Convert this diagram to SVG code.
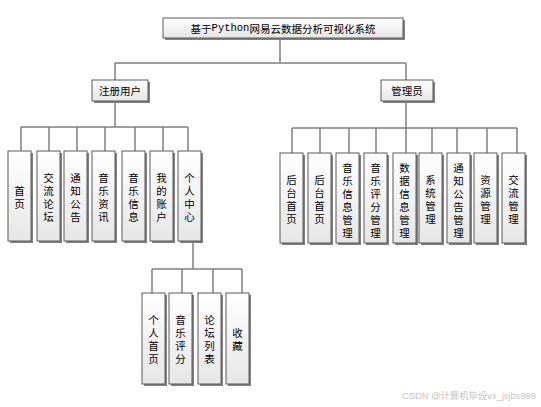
<svg xmlns="http://www.w3.org/2000/svg" width="541" height="407" viewBox="0 0 541 407">
<defs>
<linearGradient id="g" x1="0" y1="0" x2="0" y2="1">
<stop offset="0" stop-color="#ffffff"/>
<stop offset="1" stop-color="#e6e6e6"/>
</linearGradient>
</defs>
<style>
.box{fill:url(#g);stroke:#5a5a5a;stroke-width:1}
.sh{fill:#808080}
.t{font-family:"Noto Sans CJK SC","Noto Sans",sans-serif;font-size:10.5px;fill:#000;text-anchor:middle;dominant-baseline:central}
.ln{stroke:#808080;stroke-width:1.5;fill:none}
.wm{font-family:"Liberation Sans","Noto Sans CJK SC",sans-serif;font-size:9.5px;fill:#c4c4c4}
</style>
<rect width="541" height="407" fill="#fff"/>
<g id="connectors">
<path class="ln" d="M280,38V63M115,63H406M115,63V80M406,63V80"/>
<path class="ln" d="M115,101V127M21,127H188M21,127V151M49,127V151M77,127V151M105,127V151M135,127V151M163,127V151M188,127V151"/>
<path class="ln" d="M406,101V128M292,128H517M292,128V153M320,128V153M349,128V153M376,128V153M406,128V153M432,128V153M457,128V153M487,128V153M517,128V153"/>
<path class="ln" d="M193,242V269M152,269H242M152,269V293M182,269V293M213,269V293M242,269V293"/>
</g>
<g id="title">
<rect class="sh" x="165" y="20" width="240" height="20"/>
<rect class="box" x="163" y="18" width="240" height="20"/>
<text class="t" x="283" y="28">基于<tspan font-family="Liberation Mono">Python</tspan>网易云数据分析可视化系统</text>
</g>
<g id="user">
<rect class="sh" x="94" y="82" width="56" height="21"/>
<rect class="box" x="92" y="80" width="56" height="21"/>
<text class="t" x="120" y="90.5">注册用户</text>
</g>
<g id="admin">
<rect class="sh" x="383" y="82" width="52" height="21"/>
<rect class="box" x="381" y="80" width="52" height="21"/>
<text class="t" x="407" y="90.5">管理员</text>
</g>
<g id="u1"><rect class="sh" x="10" y="153" width="23" height="90"/><rect class="box" x="8" y="151" width="23" height="90"/>
<text class="t"><tspan x="19.5" y="189.5">首</tspan><tspan x="19.5" y="202.5">页</tspan></text></g>
<g id="u2"><rect class="sh" x="39" y="153" width="23" height="90"/><rect class="box" x="37" y="151" width="23" height="90"/>
<text class="t"><tspan x="48.5" y="176.5">交</tspan><tspan x="48.5" y="189.5">流</tspan><tspan x="48.5" y="202.5">论</tspan><tspan x="48.5" y="215.5">坛</tspan></text></g>
<g id="u3"><rect class="sh" x="66" y="153" width="23" height="90"/><rect class="box" x="64" y="151" width="23" height="90"/>
<text class="t"><tspan x="75.5" y="176.5">通</tspan><tspan x="75.5" y="189.5">知</tspan><tspan x="75.5" y="202.5">公</tspan><tspan x="75.5" y="215.5">告</tspan></text></g>
<g id="u4"><rect class="sh" x="94" y="153" width="23" height="90"/><rect class="box" x="92" y="151" width="23" height="90"/>
<text class="t"><tspan x="103.5" y="176.5">音</tspan><tspan x="103.5" y="189.5">乐</tspan><tspan x="103.5" y="202.5">资</tspan><tspan x="103.5" y="215.5">讯</tspan></text></g>
<g id="u5"><rect class="sh" x="124" y="153" width="23" height="90"/><rect class="box" x="122" y="151" width="23" height="90"/>
<text class="t"><tspan x="133.5" y="176.5">音</tspan><tspan x="133.5" y="189.5">乐</tspan><tspan x="133.5" y="202.5">信</tspan><tspan x="133.5" y="215.5">息</tspan></text></g>
<g id="u6"><rect class="sh" x="152" y="153" width="23" height="90"/><rect class="box" x="150" y="151" width="23" height="90"/>
<text class="t"><tspan x="161.5" y="176.5">我</tspan><tspan x="161.5" y="189.5">的</tspan><tspan x="161.5" y="202.5">账</tspan><tspan x="161.5" y="215.5">户</tspan></text></g>
<g id="u7"><rect class="sh" x="180" y="153" width="23" height="90"/><rect class="box" x="178" y="151" width="23" height="90"/>
<text class="t"><tspan x="189.5" y="176.5">个</tspan><tspan x="189.5" y="189.5">人</tspan><tspan x="189.5" y="202.5">中</tspan><tspan x="189.5" y="215.5">心</tspan></text></g>
<g id="s1"><rect class="sh" x="144" y="295" width="23" height="91"/><rect class="box" x="142" y="293" width="23" height="91"/>
<text class="t"><tspan x="153.5" y="319">个</tspan><tspan x="153.5" y="332">人</tspan><tspan x="153.5" y="345">首</tspan><tspan x="153.5" y="358">页</tspan></text></g>
<g id="s2"><rect class="sh" x="171" y="295" width="23" height="91"/><rect class="box" x="169" y="293" width="23" height="91"/>
<text class="t"><tspan x="180.5" y="319">音</tspan><tspan x="180.5" y="332">乐</tspan><tspan x="180.5" y="345">评</tspan><tspan x="180.5" y="358">分</tspan></text></g>
<g id="s3"><rect class="sh" x="200" y="295" width="23" height="91"/><rect class="box" x="198" y="293" width="23" height="91"/>
<text class="t"><tspan x="209.5" y="319">论</tspan><tspan x="209.5" y="332">坛</tspan><tspan x="209.5" y="345">列</tspan><tspan x="209.5" y="358">表</tspan></text></g>
<g id="s4"><rect class="sh" x="228" y="295" width="23" height="91"/><rect class="box" x="226" y="293" width="23" height="91"/>
<text class="t"><tspan x="237.5" y="332">收</tspan><tspan x="237.5" y="345">藏</tspan></text></g>
<g id="a1"><rect class="sh" x="282" y="155" width="23" height="90"/><rect class="box" x="280" y="153" width="23" height="90"/>
<text class="t"><tspan x="291.5" y="178.5">后</tspan><tspan x="291.5" y="191.5">台</tspan><tspan x="291.5" y="204.5">首</tspan><tspan x="291.5" y="217.5">页</tspan></text></g>
<g id="a2"><rect class="sh" x="310" y="155" width="23" height="90"/><rect class="box" x="308" y="153" width="23" height="90"/>
<text class="t"><tspan x="319.5" y="178.5">后</tspan><tspan x="319.5" y="191.5">台</tspan><tspan x="319.5" y="204.5">首</tspan><tspan x="319.5" y="217.5">页</tspan></text></g>
<g id="a3"><rect class="sh" x="338" y="155" width="23" height="90"/><rect class="box" x="336" y="153" width="23" height="90"/>
<text class="t"><tspan x="347.5" y="166.5">音</tspan><tspan x="347.5" y="179.5">乐</tspan><tspan x="347.5" y="192.5">信</tspan><tspan x="347.5" y="205.5">息</tspan><tspan x="347.5" y="218.5">管</tspan><tspan x="347.5" y="231.5">理</tspan></text></g>
<g id="a4"><rect class="sh" x="366" y="155" width="23" height="90"/><rect class="box" x="364" y="153" width="23" height="90"/>
<text class="t"><tspan x="375.5" y="166.5">音</tspan><tspan x="375.5" y="179.5">乐</tspan><tspan x="375.5" y="192.5">评</tspan><tspan x="375.5" y="205.5">分</tspan><tspan x="375.5" y="218.5">管</tspan><tspan x="375.5" y="231.5">理</tspan></text></g>
<g id="a5"><rect class="sh" x="395" y="155" width="23" height="90"/><rect class="box" x="393" y="153" width="23" height="90"/>
<text class="t"><tspan x="404.5" y="166.5">数</tspan><tspan x="404.5" y="179.5">据</tspan><tspan x="404.5" y="192.5">信</tspan><tspan x="404.5" y="205.5">息</tspan><tspan x="404.5" y="218.5">管</tspan><tspan x="404.5" y="231.5">理</tspan></text></g>
<g id="a6"><rect class="sh" x="421" y="155" width="23" height="90"/><rect class="box" x="419" y="153" width="23" height="90"/>
<text class="t"><tspan x="430.5" y="178.5">系</tspan><tspan x="430.5" y="191.5">统</tspan><tspan x="430.5" y="204.5">管</tspan><tspan x="430.5" y="217.5">理</tspan></text></g>
<g id="a7"><rect class="sh" x="449" y="155" width="23" height="90"/><rect class="box" x="447" y="153" width="23" height="90"/>
<text class="t"><tspan x="458.5" y="166.5">通</tspan><tspan x="458.5" y="179.5">知</tspan><tspan x="458.5" y="192.5">公</tspan><tspan x="458.5" y="205.5">告</tspan><tspan x="458.5" y="218.5">管</tspan><tspan x="458.5" y="231.5">理</tspan></text></g>
<g id="a8"><rect class="sh" x="476" y="155" width="23" height="90"/><rect class="box" x="474" y="153" width="23" height="90"/>
<text class="t"><tspan x="485.5" y="178.5">资</tspan><tspan x="485.5" y="191.5">源</tspan><tspan x="485.5" y="204.5">管</tspan><tspan x="485.5" y="217.5">理</tspan></text></g>
<g id="a9"><rect class="sh" x="504" y="155" width="23" height="90"/><rect class="box" x="502" y="153" width="23" height="90"/>
<text class="t"><tspan x="513.5" y="178.5">交</tspan><tspan x="513.5" y="191.5">流</tspan><tspan x="513.5" y="204.5">管</tspan><tspan x="513.5" y="217.5">理</tspan></text></g>
<text class="wm" x="402" y="399" textLength="134" lengthAdjust="spacingAndGlyphs">CSDN @计算机毕设vx_jsjbs999</text>
</svg>
